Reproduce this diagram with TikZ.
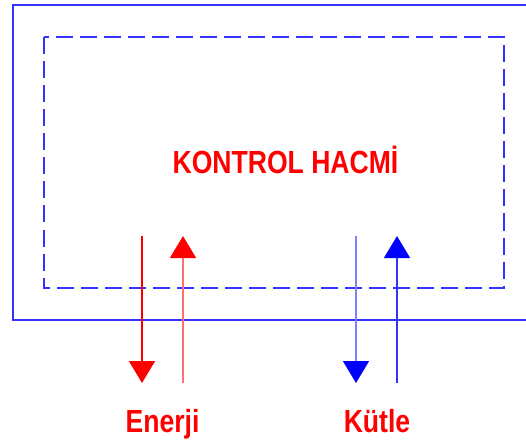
\documentclass[tikz,border=0pt]{standalone}
\usepackage{fontspec}
\setmainfont{Liberation Sans}
\usetikzlibrary{arrows.meta}
\definecolor{boxblue}{HTML}{3333FF}
\definecolor{fullred}{HTML}{FF0000}
\definecolor{palered}{HTML}{FF7070}
\definecolor{fullblue}{HTML}{0000FF}
\definecolor{paleblue}{HTML}{8080FF}
\begin{document}
\begin{tikzpicture}[x=1pt,y=-1pt,
  wall/.style={draw=boxblue,line width=2pt},
  cvbound/.style={draw=boxblue,line width=2pt,dash pattern=on 17pt off 7pt},
  flowtip/.style={-{Triangle[width=26pt,length=22pt,color=#1]}},
  label/.style={text=fullred,font=\fontsize{32}{32}\selectfont\bfseries,xscale=0.83,anchor=base,inner sep=0pt}]
  \useasboundingbox (0,0) rectangle (526,443);
  % system wall, open to the right
  \draw[wall] (527,5) -- (12.5,5) -- (12.5,319.5) -- (527,319.5);
  % control volume boundary
  \draw[cvbound] (43.5,37.5) rectangle (503.5,288);
  \node[label] (cv) at (285.5,174) {KONTROL HACMİ};
  \node[label] (en) at (162.5,432) {Enerji};
  \node[label] (ku) at (377,432) {Kütle};
  % flow arrow end points
  \coordinate (eoutA) at (142,236);
  \coordinate (eoutB) at (142,383);
  \coordinate (einA) at (183,383);
  \coordinate (einB) at (183,236);
  \coordinate (moutA) at (356,236);
  \coordinate (moutB) at (356,383);
  \coordinate (minA) at (397,383);
  \coordinate (minB) at (397,236);
  \draw[fullred,line width=1.3pt,flowtip=fullred] (eoutA) -- (eoutB);
  \draw[palered,line width=1.3pt,flowtip=fullred] (einA) -- (einB);
  \draw[paleblue,line width=1.3pt,flowtip=fullblue] (moutA) -- (moutB);
  \draw[fullblue!80!white,line width=1.3pt,flowtip=fullblue] (minA) -- (minB);
\end{tikzpicture}
\end{document}
